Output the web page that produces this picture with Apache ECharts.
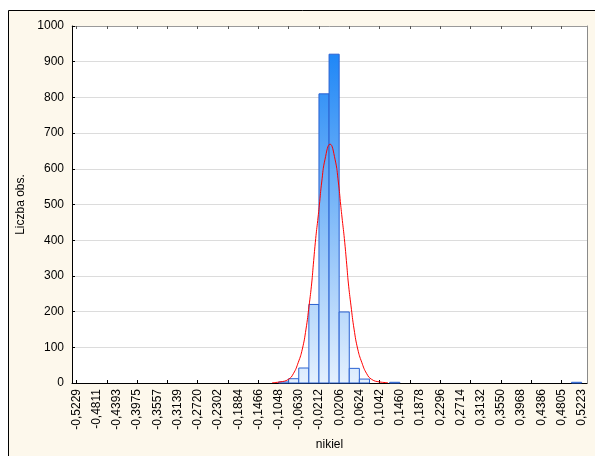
<!DOCTYPE html>
<html lang="pl">
<head>
    <meta charset="UTF-8">
    <script src="https://cdn.jsdelivr.net/npm/echarts@6/dist/echarts.min.js"></script>
    <title>nikiel</title>
    <style type="text/css">
        html, body { margin: 0; padding: 0; background: #fff; }
        #main { width: 595px; height: 456px; }
    </style>
</head>
<body>
<div id="main"></div>

<script type="text/javascript">
    // histogram: lewe krawędzie przedziałów + liczebności
    const binStart = -0.5229;
    const binWidth = 0.0209;
    const counts = [
        0, 0, 0, 0, 0, 0, 0, 0, 0, 0,
        0, 0, 0, 0, 0, 0, 0, 0, 0, 0,
        3, 12, 42, 220, 810, 921, 199, 41, 11, 0,
        0, 2, 0, 0, 0, 0, 0, 0, 0, 0,
        0, 0, 0, 0, 0, 0, 0, 0, 0, 2
    ];

    // krzywa normalna
    const curveX = [-0.1180, -0.1019, -0.0847, -0.0743, -0.0640, -0.0557, -0.0481, -0.0418, -0.0363, -0.0330,
        -0.0280, -0.0239, -0.0205, -0.0156, -0.0087, 0.0016, 0.0119, 0.0188, 0.0237, 0.0271, 0.0312,
        0.0362, 0.0395, 0.0450, 0.0513, 0.0589, 0.0672, 0.0775, 0.0879, 0.1040, 0.1212];
    const curveY = [1, 3, 10, 26, 58, 95, 151, 216, 280, 331,
        405, 455, 498, 563, 627, 669, 627, 563, 498, 455, 405,
        331, 280, 216, 151, 95, 58, 26, 10, 3, 1];

    const tickLabels = ['-0,5229', '-0,4811', '-0,4393', '-0,3975', '-0,3557', '-0,3139', '-0,2720', '-0,2302',
        '-0,1884', '-0,1466', '-0,1048', '-0,0630', '-0,0212', '0,0206', '0,0624', '0,1042', '0,1460',
        '0,1878', '0,2296', '0,2714', '0,3132', '0,3550', '0,3968', '0,4386', '0,4805', '0,5223'];

    const labelValues = tickLabels.map(function (s) { return parseFloat(s.replace(',', '.')); });
    const tickValues = [];
    for (let k = 0; k <= counts.length; k += 3) {
        tickValues.push(binStart + k * binWidth);
    }

    const barData = [];
    for (let i = 0; i < counts.length; i++) {
        if (counts[i] > 0) barData.push([binStart + i * binWidth, counts[i]]);
    }
    const curveData = curveX.map(function (x, i) { return [x, curveY[i]]; });

    const font = 'Arial, "Liberation Sans", sans-serif';
    const xMin = -0.5322, xMax = 0.5332;

    const myChart = echarts.init(document.getElementById('main'));

    const option = {
        backgroundColor: '#ffffff',
        animation: false,
        graphic: [{
            type: 'rect',
            z: -10,
            shape: { x: 8.5, y: 10.5, width: 620, height: 480 },
            style: { fill: '#fdf8ec', stroke: '#000', lineWidth: 1 }
        }],
        grid: {
            left: 72, top: 26, right: 8, bottom: 70,
            show: true, backgroundColor: '#ffffff', borderWidth: 0
        },
        xAxis: [{
            type: 'value',
            min: xMin, max: xMax,
            name: 'nikiel',
            nameLocation: 'middle',
            nameGap: 56,
            nameTextStyle: { fontFamily: font, fontSize: 12, color: '#000' },
            axisLine: { show: true, onZero: false, lineStyle: { color: '#000', width: 1 } },
            axisTick: { show: true, inside: true, length: 3, customValues: tickValues, lineStyle: { color: '#000' } },
            axisLabel: {
                rotate: 90,
                margin: 6,
                fontFamily: font, fontSize: 12, color: '#000',
                customValues: labelValues,
                formatter: function (v) {
                    let best = 0;
                    for (let i = 1; i < labelValues.length; i++) {
                        if (Math.abs(labelValues[i] - v) < Math.abs(labelValues[best] - v)) best = i;
                    }
                    return tickLabels[best];
                }
            },
            splitLine: { show: false }
        }, {
            type: 'value',
            position: 'top',
            min: xMin, max: xMax,
            axisLine: { show: true, onZero: false, lineStyle: { color: '#9a9a9a', width: 1 } },
            axisTick: { show: true, inside: true, length: 3, customValues: tickValues, lineStyle: { color: '#555' } },
            axisLabel: { show: false },
            splitLine: { show: false }
        }],
        yAxis: [{
            type: 'value',
            min: 0, max: 1000, interval: 100,
            name: 'Liczba obs.',
            nameLocation: 'middle',
            nameGap: 41,
            nameRotate: 90,
            nameTextStyle: { fontFamily: font, fontSize: 12, color: '#000' },
            axisLine: { show: true, onZero: false, lineStyle: { color: '#000', width: 1 } },
            axisTick: { show: true, inside: true, length: 3, lineStyle: { color: '#000' } },
            axisLabel: {
                fontFamily: font, fontSize: 12, color: '#000', margin: 8,
                formatter: function (v) { return String(v); }
            },
            splitLine: { show: true, lineStyle: { color: '#dcdcdc', width: 1 } }
        }, {
            type: 'value',
            position: 'right',
            min: 0, max: 1000, interval: 100,
            axisLine: { show: true, onZero: false, lineStyle: { color: '#8a8a8a', width: 1 } },
            axisTick: { show: false },
            axisLabel: { show: false },
            splitLine: { show: false }
        }],
        series: [{
            type: 'custom',
            xAxisIndex: 0,
            yAxisIndex: 0,
            data: barData,
            renderItem: function (params, api) {
                const x0 = api.value(0);
                const n = api.value(1);
                const p0 = api.coord([x0, n]);
                const p1 = api.coord([x0 + binWidth, 0]);
                const top = api.coord([0, 1000])[1];
                const bottom = api.coord([0, 0])[1];
                const grad = new echarts.graphic.LinearGradient(0, top, 0, bottom, [
                    { offset: 0, color: '#0e7ef6' },
                    { offset: 0.5, color: '#7ab7f8' },
                    { offset: 1, color: '#e4f0fe' }
                ], true);
                return {
                    type: 'rect',
                    shape: { x: p0[0], y: p0[1], width: p1[0] - p0[0], height: p1[1] - p0[1] },
                    style: { fill: grad, stroke: '#2a62d2', lineWidth: 1 }
                };
            },
            z: 2
        }, {
            type: 'line',
            xAxisIndex: 0,
            yAxisIndex: 0,
            data: curveData,
            smooth: true,
            showSymbol: false,
            symbol: 'none',
            lineStyle: { color: '#ff0000', width: 1 },
            z: 3
        }]
    };

    myChart.setOption(option);
</script>
</body>
</html>
